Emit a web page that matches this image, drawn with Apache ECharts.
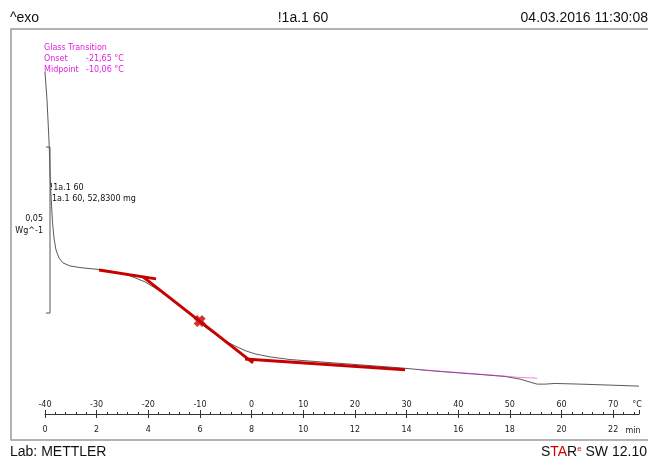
<!DOCTYPE html>
<html>
<head>
<meta charset="utf-8">
<script src="https://cdn.jsdelivr.net/npm/echarts@6/dist/echarts.min.js"></script>
<style>html,body{margin:0;padding:0;background:#fff}#c{width:648px;height:459px}</style>
</head>
<body>
<div id="c"></div>
<script>
// ---- data (temperature in °C, heat flow in W/g, arbitrary offset) ----
const temperatureC = [-40.00,-39.61,-39.23,-39.13,-39.03,-38.84,-38.55,-38.26,-37.87,-37.29,-36.51,-35.16,-33.22,-31.29,-29.35,-26.44,-23.54,-20.64,-17.73,-14.83,-11.92,-9.02,-7.08,-5.14,-3.21,-1.27,0.67,3.57,7.44,13.25,21.00,28.75,36.49,44.24,49.08,51.98,53.92,55.27,56.82,58.76,63.60,69.41,75.00];
const heatFlow     = [0.1030,0.0946,0.0825,0.0780,0.0729,0.0660,0.0578,0.0530,0.0494,0.0470,0.0455,0.0446,0.0441,0.0438,0.0435,0.0428,0.0416,0.0398,0.0370,0.0337,0.0301,0.0262,0.0241,0.0220,0.0205,0.0191,0.0181,0.0172,0.0164,0.0157,0.0148,0.0139,0.0128,0.0119,0.0113,0.0105,0.0096,0.0090,0.0090,0.0092,0.0090,0.0087,0.0084];

// tangent lines of the glass transition evaluation
const tangentUpperT = [-29.54, -18.50], tangentUpperY = [0.0434, 0.0407];
const tangentSteepT = [-21.02, 0.28],   tangentSteepY = [0.0413, 0.0154];
const tangentLowerT = [-1.27, 29.71],   tangentLowerY = [0.0166, 0.0133];
const midpointT = [-10.06], midpointY = [0.0280];
// evaluation overlay (magenta)
const evalT = [32.6, 36.49, 44.24, 49.08, 51.98, 55.3], evalY = [0.0133, 0.0129, 0.0120, 0.0114, 0.0110, 0.0108];

// scale bar: 0.05 W/g
const scaleBarT = [-39.81, -39.03], scaleBarY = [0.0304, 0.0804];

// axes
const tempMin = -40, tempMax = 75, tempStep = 10;
const timeMin = 0, timeMax = 23, timeStep = 2;
const yMin = 0, yMax = 0.11596;

const zip = (a, b) => a.map((v, i) => [v, b[i]]);
const chart = echarts.init(document.getElementById('c'), null, {renderer: 'canvas'});
const red = '#c80000';
const mag = '#e21ee2';
const smallFont = 'DejaVu Sans';
const bigFont = 'Liberation Sans';

chart.setOption({
  animation: false,
  backgroundColor: '#fff',
  grid: {left: 45, right: 9, top: 29, bottom: 45},
  xAxis: [
    {type: 'value', min: tempMin, max: tempMax, interval: tempStep, position: 'bottom',
     axisLine: {show: true, onZero: false, lineStyle: {color: '#333', width: 1}},
     axisTick: {show: true, inside: true, length: 4, lineStyle: {color: '#333'}},
     minorTick: {show: true, splitNumber: 5, length: 2, lineStyle: {color: '#333'}},
     splitLine: {show: false},
     axisLabel: {inside: true, margin: 5, fontSize: 8, fontFamily: smallFont, color: '#222', showMaxLabel: false}},
    {type: 'value', min: timeMin, max: timeMax, interval: timeStep, position: 'bottom',
     axisLine: {show: false, onZero: false},
     axisTick: {show: true, inside: false, length: 4, lineStyle: {color: '#333'}},
     splitLine: {show: false},
     axisLabel: {margin: 12, fontSize: 8, fontFamily: smallFont, color: '#222', showMaxLabel: false}}
  ],
  yAxis: {type: 'value', min: yMin, max: yMax, show: false},
  series: [
    {type: 'line', xAxisIndex: 0, data: zip(temperatureC, heatFlow), showSymbol: false, symbol: 'none',
     lineStyle: {color: '#5a5a5a', width: 1}, z: 3},
    {type: 'line', xAxisIndex: 0, data: zip(evalT, evalY), symbol: 'none',
     lineStyle: {color: mag, width: 1, opacity: 0.55}, z: 4},
    {type: 'line', xAxisIndex: 0, data: zip(tangentUpperT, tangentUpperY), symbol: 'none',
     lineStyle: {color: red, width: 3}, z: 5},
    {type: 'line', xAxisIndex: 0, data: zip(tangentSteepT, tangentSteepY), symbol: 'none',
     lineStyle: {color: red, width: 3}, z: 5},
    {type: 'line', xAxisIndex: 0, data: zip(tangentLowerT, tangentLowerY), symbol: 'none',
     lineStyle: {color: red, width: 3}, z: 5},
    {type: 'scatter', xAxisIndex: 0, data: zip(midpointT, midpointY),
     symbol: 'path://M0,3 L3,0 L5,2 L7,0 L10,3 L8,5 L10,7 L7,10 L5,8 L3,10 L0,7 L2,5 Z',
     symbolSize: 12, itemStyle: {color: red}, z: 6},
    {type: 'line', xAxisIndex: 0, symbol: 'none',
     data: [[scaleBarT[0], scaleBarY[1]], [scaleBarT[1], scaleBarY[1]], [scaleBarT[1], scaleBarY[0]], [scaleBarT[0], scaleBarY[0]]],
     lineStyle: {color: '#555', width: 1}, z: 2}
  ],
  graphic: [
    {type: 'rect', shape: {x: 11, y: 29, width: 700, height: 411},
     style: {fill: null, stroke: '#9a9a9a', lineWidth: 1.5}, silent: true, z: -1},
    {type: 'text', x: 10, y: 18, style: {text: '^exo', font: '14px ' + bigFont, fill: '#111', textVerticalAlign: 'middle'}},
    {type: 'text', x: 303, y: 18, style: {text: '!1a.1 60', font: '14px ' + bigFont, fill: '#111', textAlign: 'center', textVerticalAlign: 'middle'}},
    {type: 'text', x: 648, y: 18, style: {text: '04.03.2016 11:30:08', font: '14px ' + bigFont, fill: '#111', textAlign: 'right', textVerticalAlign: 'middle'}},
    {type: 'text', x: 44, y: 48, style: {text: 'Glass Transition', font: '8px ' + smallFont, fill: mag, textVerticalAlign: 'middle'}},
    {type: 'text', x: 44, y: 59, style: {text: 'Onset', font: '8px ' + smallFont, fill: mag, textVerticalAlign: 'middle'}},
    {type: 'text', x: 86, y: 59, style: {text: '-21,65 °C', font: '8px ' + smallFont, fill: mag, textVerticalAlign: 'middle'}},
    {type: 'text', x: 44, y: 70, style: {text: 'Midpoint', font: '8px ' + smallFont, fill: mag, textVerticalAlign: 'middle'}},
    {type: 'text', x: 86, y: 70, style: {text: '-10,06 °C', font: '8px ' + smallFont, fill: mag, textVerticalAlign: 'middle'}},
    {type: 'text', x: 50, y: 188, style: {text: '!1a.1 60', font: '8px ' + smallFont, fill: '#111', textVerticalAlign: 'middle'}},
    {type: 'text', x: 52, y: 199, style: {text: '1a.1 60, 52,8300 mg', font: '8px ' + smallFont, fill: '#111', textVerticalAlign: 'middle'}},
    {type: 'text', x: 43, y: 219, style: {text: '0,05', font: '8px ' + smallFont, fill: '#111', textAlign: 'right', textVerticalAlign: 'middle'}},
    {type: 'text', x: 43, y: 231, style: {text: 'Wg^-1', font: '8px ' + smallFont, fill: '#111', textAlign: 'right', textVerticalAlign: 'middle'}},
    {type: 'text', x: 637, y: 405, style: {text: '°C', font: '8px ' + smallFont, fill: '#222', textAlign: 'center', textVerticalAlign: 'middle'}},
    {type: 'text', x: 633, y: 431, style: {text: 'min', font: '8px ' + smallFont, fill: '#222', textAlign: 'center', textVerticalAlign: 'middle'}},
    {type: 'text', x: 10, y: 452, style: {text: 'Lab: METTLER', font: '14px ' + bigFont, fill: '#111', textVerticalAlign: 'middle'}},
    {type: 'text', x: 647, y: 452, style: {
      text: '{b|S}{r|TA}{b|R}{s|e}{b| SW 12.10}', textAlign: 'right', textVerticalAlign: 'middle',
      rich: {b: {font: '14px ' + bigFont, fill: '#111'}, r: {font: '14px ' + bigFont, fill: '#d40000'},
             s: {font: '8px ' + bigFont, fill: '#d40000', verticalAlign: 'top', padding: [0, 0, 6, 0]}}}}
  ]
});
</script>
</body>
</html>
